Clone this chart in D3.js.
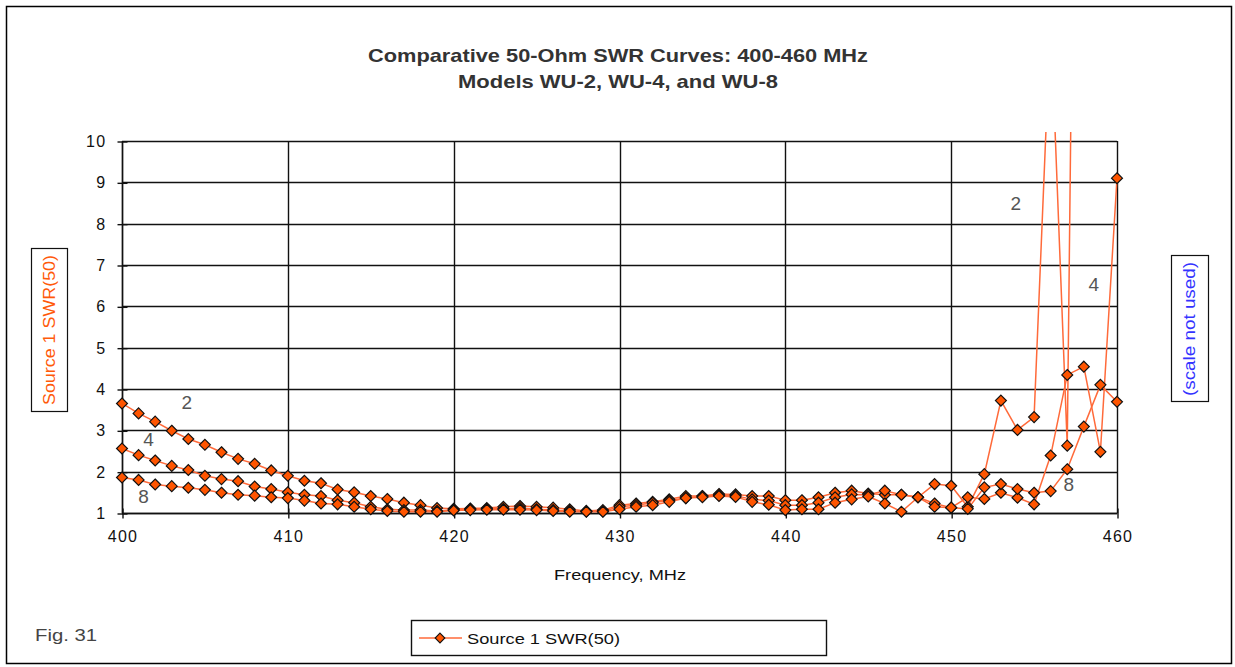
<!DOCTYPE html>
<html>
<head>
<meta charset="utf-8">
<script src="https://cdn.jsdelivr.net/npm/d3@7/dist/d3.min.js"></script>
<style>
  html, body { margin: 0; padding: 0; background: #fff; }
  svg { display: block; font-family: "Liberation Sans", Arial, sans-serif; }
</style>
</head>
<body>
<svg id="chart" width="1235" height="667"></svg>
<script>
// Frequency steps (MHz)
const freqs = [400,401,402,403,404,405,406,407,408,409,410,411,412,413,414,415,416,417,418,419,
  420,421,422,423,424,425,426,427,428,429,430,431,432,433,434,435,436,437,438,439,
  440,441,442,443,444,445,446,447,448,449,450,451,452,453,454,455,456,457,458,459,460];

// 50-ohm SWR, model WU-2
const swrWU2 = [3.65,3.41,3.21,2.99,2.79,2.65,2.47,2.31,2.19,2.03,1.90,1.78,1.72,1.57,1.50,1.41,1.34,1.25,1.19,1.12,
  1.10,1.11,1.12,1.15,1.17,1.15,1.13,1.09,1.05,1.07,1.19,1.23,1.27,1.33,1.41,1.41,1.46,1.45,1.41,1.41,
  1.31,1.31,1.38,1.49,1.54,1.47,1.44,1.44,1.38,1.70,1.66,1.15,1.94,3.72,3.01,3.32,13.0,2.63,39.0,30.0,20.0];

// 50-ohm SWR, model WU-4
const swrWU4 = [2.56,2.40,2.27,2.14,2.04,1.90,1.82,1.77,1.64,1.58,1.50,1.44,1.41,1.31,1.25,1.15,1.09,1.07,1.07,1.05,
  1.08,1.09,1.10,1.10,1.12,1.09,1.07,1.05,1.04,1.04,1.15,1.19,1.25,1.31,1.36,1.41,1.43,1.42,1.33,1.30,
  1.19,1.19,1.25,1.38,1.45,1.44,1.54,1.44,1.38,1.23,1.13,1.38,1.34,1.49,1.37,1.21,2.39,4.34,4.54,2.48,9.10];

// 50-ohm SWR, model WU-8
const swrWU8 = [1.86,1.80,1.69,1.65,1.61,1.56,1.49,1.44,1.42,1.38,1.36,1.30,1.23,1.21,1.15,1.09,1.05,1.03,1.03,1.03,
  1.06,1.07,1.08,1.08,1.08,1.07,1.05,1.03,1.03,1.03,1.09,1.15,1.19,1.27,1.36,1.38,1.41,1.39,1.27,1.20,
  1.07,1.09,1.09,1.25,1.33,1.40,1.23,1.03,1.38,1.15,1.13,1.10,1.62,1.70,1.58,1.49,1.53,2.06,3.09,4.10,3.69];

const xTicks = [400, 410, 420, 430, 440, 450, 460];
const yTicks = [1, 2, 3, 4, 5, 6, 7, 8, 9, 10];

// Curve tags placed on the plot: model number and where it sits (freq, SWR)
const tagText = ["2", "4", "8", "2", "4", "8"];
const tagFreq = [403.9, 401.6, 401.3, 453.9, 458.6, 457.1];
const tagSwr  = [3.64, 2.74, 1.36, 8.45, 6.5, 1.65];

const titleLines = ["Comparative 50-Ohm SWR Curves: 400-460 MHz", "Models WU-2, WU-4, and WU-8"];

const lineColor = "#ff6a3a";
const markerFill = "#ff5500";

const svg = d3.select("#chart");
const plot = { left: 122, right: 1117, top: 141, bottom: 513 };

const x = d3.scaleLinear().domain([400, 460]).range([plot.left, plot.right]);
const y = d3.scaleLinear().domain([1, 10]).range([plot.bottom, plot.top]);

// Outer chart frame
svg.append("rect").attr("x", 6.5).attr("y", 6.5).attr("width", 1225).attr("height", 657)
  .attr("fill", "#fff").attr("stroke", "#000").attr("stroke-width", 1.5);

// Title (two centred lines, spread to the original widths)
const titleWidths = [500, 320];
titleLines.forEach((t, i) => {
  svg.append("text").attr("text-anchor", "middle")
    .attr("x", 618).attr("y", 62 + i * 26)
    .attr("font-weight", "bold").attr("font-size", 18.5).attr("fill", "#333")
    .attr("textLength", titleWidths[i]).attr("lengthAdjust", "spacingAndGlyphs")
    .text(t);
});

// Gridlines
const grid = svg.append("g");
grid.selectAll("line.h").data(yTicks).join("line")
  .attr("x1", plot.left).attr("x2", plot.right)
  .attr("y1", d => Math.round(y(d)) + 0.5).attr("y2", d => Math.round(y(d)) + 0.5)
  .attr("stroke", "#111").attr("stroke-width", 1.4);
grid.selectAll("line.v").data(xTicks).join("line")
  .attr("y1", plot.top).attr("y2", plot.bottom)
  .attr("x1", d => Math.round(x(d)) + 0.5).attr("x2", d => Math.round(x(d)) + 0.5)
  .attr("stroke", "#111").attr("stroke-width", 1.4);

// Axes with crossing tick marks
const yAxis = d3.axisLeft(y).tickValues(yTicks).tickSize(5).tickPadding(11).tickFormat(d3.format("d"));
const gy = svg.append("g").attr("transform", `translate(${plot.left + 0.5},0.5)`).call(yAxis);
gy.selectAll(".tick line").attr("x1", 5).attr("x2", -5).attr("stroke", "#111").attr("stroke-width", 1.4);
gy.select(".domain").attr("stroke", "#111").attr("stroke-width", 1.4).attr("d", `M0,${plot.top}V${plot.bottom}`);
gy.selectAll(".tick text").attr("font-size", 16).attr("fill", "#111").attr("letter-spacing", 1.3)
  .attr("font-family", "Liberation Sans, Arial, sans-serif");

const xAxis = d3.axisBottom(x).tickValues(xTicks).tickSize(5).tickPadding(12).tickFormat(d3.format("d"));
const gx = svg.append("g").attr("transform", `translate(0.5,${plot.bottom + 0.5})`).call(xAxis);
gx.selectAll(".tick line").attr("y1", -5).attr("y2", 5).attr("stroke", "#111").attr("stroke-width", 1.4);
gx.select(".domain").attr("stroke", "#111").attr("stroke-width", 1.4).attr("d", `M${plot.left},0H${plot.right}`);
gx.selectAll(".tick text").attr("font-size", 16).attr("fill", "#111").attr("letter-spacing", 1.3)
  .attr("font-family", "Liberation Sans, Arial, sans-serif");

// X axis title
svg.append("text").attr("x", 620).attr("y", 580).attr("text-anchor", "middle")
  .attr("font-size", 15.5).attr("fill", "#111")
  .attr("textLength", 132).attr("lengthAdjust", "spacingAndGlyphs").text("Frequency, MHz");

// Left axis title in a box
svg.append("rect").attr("x", 31.5).attr("y", 248.5).attr("width", 36).attr("height", 163)
  .attr("fill", "#fff").attr("stroke", "#111").attr("stroke-width", 1.2);
svg.append("text").attr("transform", "translate(55,330) rotate(-90)").attr("text-anchor", "middle")
  .attr("font-size", 16).attr("fill", "#ff5a0a")
  .attr("textLength", 150).attr("lengthAdjust", "spacingAndGlyphs").text("Source 1 SWR(50)");

// Right (unused) axis title in a box
svg.append("rect").attr("x", 1171.5).attr("y", 255.5).attr("width", 37).attr("height", 146)
  .attr("fill", "#fff").attr("stroke", "#111").attr("stroke-width", 1.2);
svg.append("text").attr("transform", "translate(1195,329) rotate(-90)").attr("text-anchor", "middle")
  .attr("font-size", 16).attr("fill", "#3333ff")
  .attr("textLength", 134).attr("lengthAdjust", "spacingAndGlyphs").text("(scale not used)");

// Series lines and markers, clipped slightly above the top of the plot
svg.append("defs").append("clipPath").attr("id", "plotClip")
  .append("rect").attr("x", plot.left - 8).attr("y", plot.top - 9)
  .attr("width", plot.right - plot.left + 16).attr("height", plot.bottom - plot.top + 18);

const seriesList = [swrWU2, swrWU4, swrWU8];
const line = d3.line().x(d => x(d[0])).y(d => y(d[1]));
const gSeries = svg.append("g").attr("clip-path", "url(#plotClip)");
const diamond = d3.symbol().type(d3.symbolDiamond2).size(76);

seriesList.forEach(vals => {
  const pts = freqs.map((f, i) => [f, vals[i]]);
  gSeries.append("path").datum(pts).attr("d", line)
    .attr("fill", "none").attr("stroke", lineColor).attr("stroke-width", 1.5);
});
seriesList.forEach(vals => {
  const pts = freqs.map((f, i) => [f, vals[i]]).filter(p => p[1] <= 10.3);
  gSeries.selectAll(null).data(pts).join("path")
    .attr("d", diamond)
    .attr("transform", d => `translate(${x(d[0])},${y(d[1])})`)
    .attr("fill", markerFill).attr("stroke", "#111").attr("stroke-width", 1.2);
});

// Model tags
svg.append("g").selectAll("text").data(tagText).join("text")
  .attr("x", (d, i) => x(tagFreq[i])).attr("y", (d, i) => y(tagSwr[i]))
  .attr("text-anchor", "middle").attr("dominant-baseline", "middle")
  .attr("font-size", 19).attr("fill", "#555").text(d => d);

// Figure number
svg.append("text").attr("x", 35).attr("y", 641).attr("font-size", 16).attr("fill", "#444")
  .attr("textLength", 62).attr("lengthAdjust", "spacingAndGlyphs").text("Fig. 31");

// Legend
const lg = svg.append("g");
lg.append("rect").attr("x", 411.5).attr("y", 620.5).attr("width", 415).attr("height", 35)
  .attr("fill", "#fff").attr("stroke", "#111").attr("stroke-width", 1.4);
lg.append("line").attr("x1", 419).attr("x2", 462).attr("y1", 638).attr("y2", 638)
  .attr("stroke", lineColor).attr("stroke-width", 1.5);
lg.append("path").attr("d", d3.symbol().type(d3.symbolDiamond2).size(60))
  .attr("transform", "translate(440,638)").attr("fill", markerFill).attr("stroke", "#111").attr("stroke-width", 1.1);
lg.append("text").attr("x", 467).attr("y", 643.5).attr("font-size", 15.5).attr("fill", "#111")
  .attr("textLength", 153).attr("lengthAdjust", "spacingAndGlyphs").text("Source 1 SWR(50)");
</script>
</body>
</html>
